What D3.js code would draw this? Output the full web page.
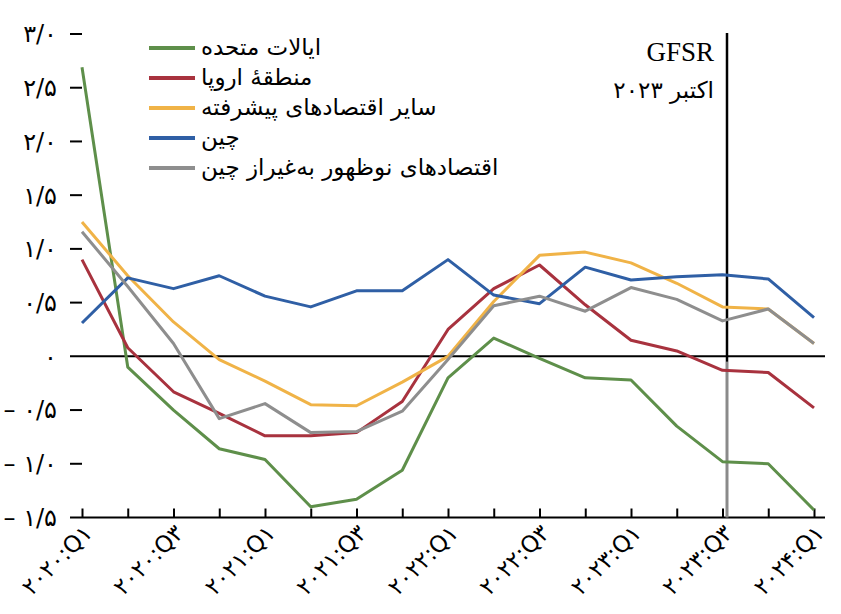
<!DOCTYPE html>
<html><head><meta charset="utf-8">
<script src="https://cdn.jsdelivr.net/npm/d3@7"></script>
<style>
html,body{margin:0;padding:0;background:#fff;}
svg{display:block;}
</style></head>
<body><svg id="c" width="841" height="614"></svg>
<script>
const quarters = ["۲۰۲۰:Q۱","۲۰۲۰:Q۲","۲۰۲۰:Q۳","۲۰۲۰:Q۴","۲۰۲۱:Q۱","۲۰۲۱:Q۲","۲۰۲۱:Q۳","۲۰۲۱:Q۴","۲۰۲۲:Q۱","۲۰۲۲:Q۲","۲۰۲۲:Q۳","۲۰۲۲:Q۴","۲۰۲۳:Q۱","۲۰۲۳:Q۲","۲۰۲۳:Q۳","۲۰۲۳:Q۴","۲۰۲۴:Q۱"];
const shownQuarterLabels = ["۲۰۲۰:Q۱","۲۰۲۰:Q۳","۲۰۲۱:Q۱","۲۰۲۱:Q۳","۲۰۲۲:Q۱","۲۰۲۲:Q۳","۲۰۲۳:Q۱","۲۰۲۳:Q۳","۲۰۲۴:Q۱"];
const yTicks = [3.0, 2.5, 2.0, 1.5, 1.0, 0.5, 0, -0.5, -1.0, -1.5];
const yTickLabels = ["۳/۰","۲/۵","۲/۰","۱/۵","۱/۰","۰/۵","۰","– ۰/۵","– ۱/۰","– ۱/۵"];

const seriesNames = ["ایالات متحده","منطقهٔ اروپا","سایر اقتصادهای پیشرفته","چین","اقتصادهای نوظهور به‌غیراز چین"];
const seriesColors = ["#5e8f4a","#a8323e","#f0b347","#2f5fa5","#8e8e8e"];

const usValues      = [2.69,-0.10,-0.50,-0.86,-0.96,-1.40,-1.33,-1.06,-0.20,0.17,-0.02,-0.20,-0.22,-0.65,-0.98,-1.00,-1.43];
const euroValues    = [0.90,0.08,-0.33,-0.53,-0.74,-0.74,-0.71,-0.42,0.25,0.63,0.85,0.48,0.15,0.05,-0.13,-0.15,-0.48];
const otherAdvValues= [1.25,0.75,0.32,-0.03,-0.23,-0.45,-0.46,-0.24,0.00,0.51,0.94,0.97,0.87,0.68,0.46,0.44,0.12];
const chinaValues   = [0.31,0.73,0.63,0.75,0.56,0.46,0.61,0.61,0.90,0.57,0.49,0.83,0.71,0.74,0.76,0.72,0.36];
const emExChinaValues=[1.16,0.65,0.12,-0.58,-0.44,-0.71,-0.70,-0.51,-0.03,0.47,0.56,0.42,0.64,0.53,0.33,0.44,0.12];
const allSeries = [usValues, euroValues, otherAdvValues, chinaValues, emExChinaValues];

const gfsrQuarter = "۲۰۲۳:Q۳";
const gfsrText1 = "GFSR";
const gfsrText2 = "اکتبر ۲۰۲۳";

const svg = d3.select("#c");
const x = d3.scalePoint().domain(quarters).range([82, 814]);
const y = d3.scaleLinear().domain([-1.5, 3.0]).range([517.5, 34]);
const axL = 70, axR = 825;
const arFont = "'DejaVu Sans', 'Noto Sans', sans-serif";

// y tick marks and labels
const yg = svg.append("g");
yTicks.forEach((t, i) => {
  if (t !== 0 && t !== -1.5) {
    yg.append("line").attr("x1", axL).attr("x2", axL + 12)
      .attr("y1", y(t)).attr("y2", y(t)).attr("stroke", "#000").attr("stroke-width", 2);
  }
  yg.append("text").attr("x", 57).attr("y", y(t)).attr("dy", "0.35em")
    .attr("text-anchor", "end").attr("font-family", arFont).attr("font-size", 24)
    .attr("fill", "#000").text(yTickLabels[i]);
});

// zero line
svg.append("line").attr("x1", axL).attr("x2", axR).attr("y1", y(0)).attr("y2", y(0))
  .attr("stroke", "#000").attr("stroke-width", 2);

// bottom axis
const xAxis = d3.axisBottom(x).tickSizeInner(-9).tickSizeOuter(0)
  .tickFormat(d => shownQuarterLabels.includes(d) ? d : "");
const xg = svg.append("g").attr("transform", `translate(0,${y(-1.5)})`).call(xAxis);
xg.select(".domain").remove();
xg.selectAll(".tick line").attr("stroke", "#000").attr("stroke-width", 2);
xg.selectAll(".tick text")
  .attr("font-family", arFont).attr("font-size", 23).attr("fill", "#000")
  .attr("text-anchor", "end").attr("dy", 0).attr("y", 0)
  .attr("transform", "translate(11,17) rotate(-45)");
svg.append("line").attr("x1", axL).attr("x2", axR).attr("y1", y(-1.5)).attr("y2", y(-1.5))
  .attr("stroke", "#000").attr("stroke-width", 2);

// vertical GFSR marker
const vx = x(gfsrQuarter) + 4.5;
svg.append("line").attr("x1", vx).attr("x2", vx).attr("y1", y(-0.05)).attr("y2", y(-1.5))
  .attr("stroke", "#8a8a8a").attr("stroke-width", 3);
svg.append("line").attr("x1", vx).attr("x2", vx).attr("y1", y(3.0) - 1).attr("y2", y(-0.05))
  .attr("stroke", "#000").attr("stroke-width", 2.5);
svg.append("text").attr("x", vx - 13).attr("y", 61).attr("text-anchor", "end")
  .attr("font-family", "'Liberation Serif', serif").attr("font-size", 27).text(gfsrText1);
svg.append("text").attr("x", vx - 13).attr("y", 98).attr("text-anchor", "end")
  .attr("font-family", arFont).attr("font-size", 23).text(gfsrText2);

// series lines
const line = d3.line().x((d, i) => x(quarters[i])).y(d => y(d));
allSeries.forEach((vals, k) => {
  svg.append("path").datum(vals).attr("d", line)
    .attr("fill", "none").attr("stroke", seriesColors[k]).attr("stroke-width", 3)
    .attr("stroke-linejoin", "round");
});

// legend
const lg = svg.append("g");
seriesNames.forEach((n, k) => {
  const ly = 48 + k * 30;
  lg.append("line").attr("x1", 149).attr("x2", 195).attr("y1", ly).attr("y2", ly)
    .attr("stroke", seriesColors[k]).attr("stroke-width", 4);
  lg.append("text").attr("x", 201).attr("y", ly).attr("dy", "0.3em")
    .attr("text-anchor", "start").attr("font-family", arFont).attr("font-size", 23)
    .attr("fill", "#000").text(n);
});
</script></body></html>
